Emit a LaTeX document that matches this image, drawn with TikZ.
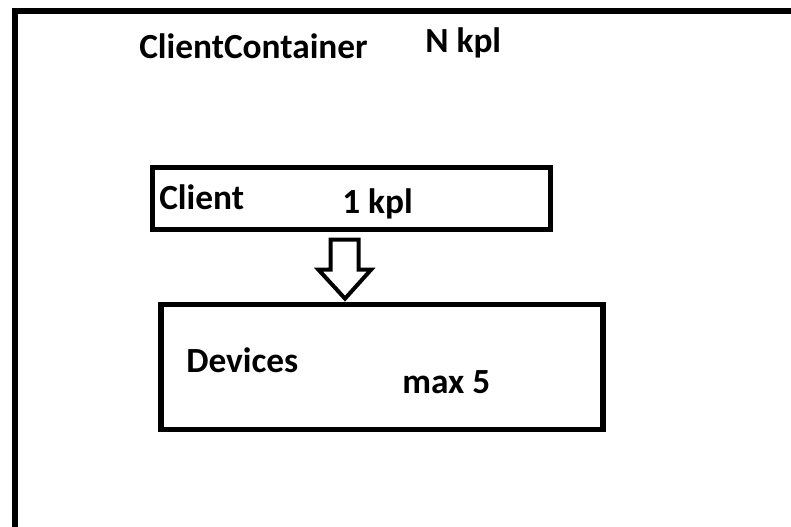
\documentclass[tikz,border=0pt]{standalone}
\usepackage{fontspec}
\setmainfont{Carlito}
\usetikzlibrary{positioning, calc}

\begin{document}
\begin{tikzpicture}[
        x=0.75pt, y=-0.75pt,
        font=\fontsize{26.5}{30}\selectfont\bfseries,
        base/.style={draw, line width=4.1pt, rectangle, inner sep=0pt},
        container/.style={base, line width=4.5pt, minimum width=900pt, minimum height=600pt},
        clientbox/.style={base, minimum width=298.5pt, minimum height=46.5pt},
        devicebox/.style={base, minimum width=331.5pt, minimum height=94pt},
        label/.style={inner sep=0pt, anchor=base west},
        blockarrow/.style={draw, line width=3pt, fill=white, line join=miter},
    ]

    \clip (0,0) rectangle (791,526);
    \fill[white] (0,0) rectangle (791,526);

    % Nodes
    \node[container, anchor=north west] (container) at (12,7.5) {};
    \node[clientbox] (client) at (351.5,198.5) {};
    \node[devicebox] (devices) at (382,367) {};

    % Labels
    \node[label] (containername) at (139,58) {ClientContainer};
    \node[label] (containercount) at (425,52) {N kpl};
    \node[label] (clientname) at (159,209) {Client};
    \node[label] (clientcount) at (342,213) {1 kpl};
    \node[label] (devicesname) at (186,372) {Devices};
    \node[label] (devicescount) at (402,393) {max 5};

    % Arrows
    \coordinate (top) at ($(client.south)+(-7,7.5)$);
    \coordinate (tip) at ($(devices.north)+(-37,-3)$);
    \draw[blockarrow] ($(top)+(-14,0)$) -- ($(top)+(14,0)$) -- ($(top)+(14,30)$)
        -- ($(top)+(26.5,30)$) -- (tip) -- ($(top)+(-26,30)$)
        -- ($(top)+(-14,30)$) -- cycle;

\end{tikzpicture}
\end{document}
